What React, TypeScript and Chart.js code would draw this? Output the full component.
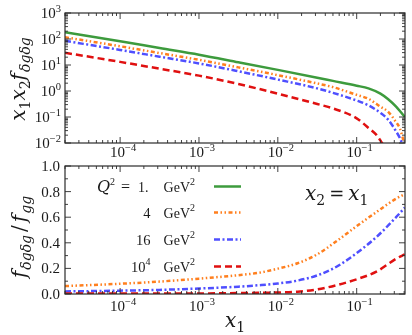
import React, { useEffect, useRef } from "react";
import { Chart, registerables } from "chart.js";
Chart.register(...registerables);

// ---------- data ----------
// top panel: x1 x2 f_{δgδg}
const xQ1 = [2e-5, 1e-4, 3.16e-4, 1e-3, 3.16e-3, 0.01, 0.0316, 0.05, 0.1, 0.141, 0.2, 0.251, 0.316, 0.355, 0.407];
const topQ1 = [182, 82, 45, 25, 12.8, 6.5, 3.25, 2.45, 1.6, 1.26, 0.79, 0.48, 0.25, 0.166, 0.1];
const xQ4 = [2e-5, 1e-4, 3.16e-4, 1e-3, 3.16e-3, 0.01, 0.0316, 0.05, 0.1, 0.141, 0.2, 0.251, 0.316, 0.355, 0.38, 0.407];
const topQ4 = [117, 52.5, 28.8, 15.8, 8.1, 4.07, 1.95, 1.41, 0.71, 0.5, 0.25, 0.158, 0.063, 0.035, 0.0174, 0.008];
const xQ16 = [2e-5, 1e-4, 3.16e-4, 1e-3, 3.16e-3, 0.01, 0.0316, 0.05, 0.1, 0.141, 0.2, 0.251, 0.316, 0.355, 0.38];
const topQ16 = [85, 38, 20.9, 11.5, 5.75, 2.75, 1.26, 0.85, 0.43, 0.28, 0.145, 0.079, 0.028, 0.015, 0.0089];
const xQ1e4 = [2e-5, 1e-4, 3.16e-4, 1e-3, 3.16e-3, 0.01, 0.0316, 0.05, 0.1, 0.141, 0.178, 0.2, 0.224];
const topQ1e4 = [29.5, 13.2, 7.2, 3.9, 1.86, 0.79, 0.316, 0.214, 0.089, 0.038, 0.0204, 0.0126, 0.0071];

// bottom panel: f_{δgδg} / f_{gg}
const xBot = [2e-5, 1e-4, 3.16e-4, 1e-3, 3.16e-3, 5.62e-3, 0.01, 0.0178, 0.0316, 0.0562, 0.1, 0.178, 0.316, 0.407];
const ratioQ4 = [0.062, 0.08, 0.097, 0.12, 0.147, 0.165, 0.198, 0.24, 0.31, 0.415, 0.53, 0.64, 0.745, 0.78];
const ratioQ16 = [0.02, 0.026, 0.032, 0.043, 0.057, 0.068, 0.082, 0.105, 0.145, 0.215, 0.32, 0.445, 0.6, 0.675];
const ratioQ1e4 = [0.003, 0.003, 0.003, 0.004, 0.007, 0.009, 0.012, 0.018, 0.036, 0.07, 0.115, 0.175, 0.275, 0.31];

const xDecades = [-4, -3, -2, -1];
const topYDecades = [-2, -1, 0, 1, 2, 3];
const botYTicks = [0, 0.2, 0.4, 0.6, 0.8, 1.0];
const botYLabels = ["0.0", "0.2", "0.4", "0.6", "0.8", "1.0"];
const legendNumbers = ["1.", "4", "16", "10"];

// ---------- styles ----------
const C1 = "#3d9b3d";
const C4 = "#ff7f1e";
const C16 = "#4f4fff";
const C1e4 = "#e01010";
const D1: number[] = [];
const D4 = [4, 2.5, 1.5, 2.5, 1.5, 2.5];
const D16 = [6, 2.5, 2, 2.5];
const D1e4 = [7, 4];
const FRAME = "#2b2b2b";
const TXT = "#1a1a1a";

type Seg = { t?: string; font?: string; dy?: number; gap?: number };
const R = (t: string, size: number, dy = 0): Seg => ({ t, font: `${size}px "Liberation Serif"`, dy });
const M = (t: string, size: number, dy = 0): Seg => ({ t, font: `italic ${size}px "DejaVu Serif"`, dy });
const MR = (t: string, size: number, dy = 0): Seg => ({ t, font: `${size}px "DejaVu Serif"`, dy });
const G = (w: number): Seg => ({ gap: w });

function drawSegs(ctx: CanvasRenderingContext2D, segs: Seg[], x: number, y: number, align: "left" | "center" | "right") {
  let total = 0;
  const widths = segs.map((s) => {
    if (s.gap !== undefined) return s.gap;
    ctx.font = s.font!;
    return ctx.measureText(s.t!).width;
  });
  widths.forEach((w) => (total += w));
  let cx = align === "left" ? x : align === "center" ? x - total / 2 : x - total;
  ctx.textAlign = "left";
  ctx.textBaseline = "alphabetic";
  ctx.fillStyle = TXT;
  segs.forEach((s, i) => {
    if (s.gap === undefined) {
      ctx.font = s.font!;
      ctx.fillText(s.t!, cx, y + (s.dy || 0));
    }
    cx += widths[i];
  });
}

function drawRotated(ctx: CanvasRenderingContext2D, segs: Seg[], x: number, y: number) {
  ctx.save();
  ctx.translate(x, y);
  ctx.rotate(-Math.PI / 2);
  drawSegs(ctx, segs, 0, 0, "center");
  ctx.restore();
}

const sup = (e: number) => (e < 0 ? "\u2212" + -e : String(e));

function tickLine(ctx: CanvasRenderingContext2D, x1: number, y1: number, x2: number, y2: number) {
  ctx.beginPath();
  ctx.moveTo(x1, y1);
  ctx.lineTo(x2, y2);
  ctx.stroke();
}

function drawFrameAndXTicks(chart: any) {
  const ctx: CanvasRenderingContext2D = chart.ctx;
  const a = chart.chartArea;
  const xs = chart.scales.x;
  ctx.save();
  ctx.strokeStyle = FRAME;
  ctx.lineWidth = 1.2;
  ctx.strokeRect(a.left, a.top, a.right - a.left, a.bottom - a.top);
  ctx.lineWidth = 0.9;
  for (let d = -6; d <= 0; d++) {
    for (let m = 1; m <= 9; m++) {
      const v = m * Math.pow(10, d);
      if (v < xs.min || v > xs.max) continue;
      const px = xs.getPixelForValue(v);
      const len = m === 1 ? 6 : 3;
      tickLine(ctx, px, a.bottom, px, a.bottom - len);
      tickLine(ctx, px, a.top, px, a.top + len);
    }
  }
  ctx.restore();
}

const topPlugin = {
  id: "topDecor",
  afterDraw(chart: any) {
    const ctx: CanvasRenderingContext2D = chart.ctx;
    const a = chart.chartArea;
    const xs = chart.scales.x;
    const ys = chart.scales.y;
    drawFrameAndXTicks(chart);
    ctx.save();
    ctx.strokeStyle = FRAME;
    ctx.lineWidth = 0.9;
    for (let d = -3; d <= 3; d++) {
      for (let m = 1; m <= 9; m++) {
        const v = m * Math.pow(10, d);
        if (v < ys.min * 0.999 || v > ys.max * 1.001) continue;
        const py = ys.getPixelForValue(v);
        const len = m === 1 ? 6 : 3;
        tickLine(ctx, a.left, py, a.left + len, py);
        tickLine(ctx, a.right, py, a.right - len, py);
      }
    }
    ctx.restore();
    xDecades.forEach((d) => {
      const px = xs.getPixelForValue(Math.pow(10, d));
      drawSegs(ctx, [R("10", 15), R(sup(d), 10.5, -6)], px + 3, a.bottom + 14, "center");
    });
    topYDecades.forEach((e) => {
      const py = ys.getPixelForValue(Math.pow(10, e));
      drawSegs(ctx, [R("10", 15), R(sup(e), 10.5, -6)], a.left - 4, py + 5, "right");
    });
    drawRotated(ctx, [M("x", 20), MR("1", 14, 5), M("x", 20), MR("2", 14, 5), M("f", 20), G(1), M("\u03b4g\u03b4g", 14, 5)], 25, 79);
  },
};

const botPlugin = {
  id: "botDecor",
  afterDraw(chart: any) {
    const ctx: CanvasRenderingContext2D = chart.ctx;
    const a = chart.chartArea;
    const xs = chart.scales.x;
    const ys = chart.scales.y;
    drawFrameAndXTicks(chart);
    ctx.save();
    ctx.strokeStyle = FRAME;
    ctx.lineWidth = 0.9;
    for (let i = 0; i <= 10; i++) {
      const v = i / 10;
      const py = ys.getPixelForValue(v);
      const len = i % 2 === 0 ? 6 : 3;
      tickLine(ctx, a.left, py, a.left + len, py);
      tickLine(ctx, a.right, py, a.right - len, py);
    }
    ctx.restore();
    xDecades.forEach((d) => {
      const px = xs.getPixelForValue(Math.pow(10, d));
      drawSegs(ctx, [R("10", 15), R(sup(d), 10.5, -6)], px + 3, a.bottom + 17, "center");
    });
    botYTicks.forEach((v, i) => {
      const py = ys.getPixelForValue(v);
      drawSegs(ctx, [R(botYLabels[i], 15)], a.left - 5, py + 5, "right");
    });
    drawRotated(ctx, [M("f", 20), G(1), M("\u03b4g\u03b4g", 14, 5), G(3), MR("/", 20), G(3), M("f", 20), G(1), M("gg", 14, 5)], 26, 87);
    // x title
    drawSegs(ctx, [M("x", 20), MR("1", 14, 5)], 235, 177, "center");
    // annotation
    drawSegs(ctx, [M("x", 20), MR("2", 14, 5), G(4), MR("=", 18), G(4), M("x", 20), MR("1", 14, 5)], 305, 50, "left");
    // legend
    const rows: { segs: Seg[]; color: string; dash: number[] }[] = [
      { segs: [M("Q", 16), R("2", 10, -7), G(6), R("=", 16), G(8), R(legendNumbers[0], 14), G(15), R("GeV", 14), R("2", 10, -7)], color: C1, dash: D1 },
      { segs: [R(legendNumbers[1], 14.5), G(13), R("GeV", 14), R("2", 10, -7)], color: C4, dash: D4 },
      { segs: [R(legendNumbers[2], 14.5), G(13), R("GeV", 14), R("2", 10, -7)], color: C16, dash: D16 },
      { segs: [R(legendNumbers[3], 14.5), R("4", 10, -7), G(13), R("GeV", 14), R("2", 10, -7)], color: C1e4, dash: D1e4 },
    ];
    const baselines = [42, 68, 95, 122];
    rows.forEach((r, i) => {
      drawSegs(ctx, r.segs, 195, baselines[i], "right");
      ctx.save();
      ctx.strokeStyle = r.color;
      ctx.lineWidth = 2.5;
      ctx.setLineDash(r.dash);
      tickLine(ctx, 214, baselines[i] - 5.5, 241, baselines[i] - 5.5);
      ctx.restore();
    });
  },
};

const ds = (xs: number[], ys: number[], color: string, dash: number[]) => ({
  data: xs.map((x, i) => ({ x, y: ys[i] })),
  borderColor: color,
  borderWidth: 2.5,
  borderDash: dash,
  pointRadius: 0,
  fill: false,
  cubicInterpolationMode: "monotone" as const,
});

const App = () => {
  const topRef = useRef<HTMLCanvasElement>(null);
  const botRef = useRef<HTMLCanvasElement>(null);
  useEffect(() => {
    const top = new Chart(topRef.current!, {
      type: "line",
      data: {
        datasets: [
          ds(xQ1e4, topQ1e4, C1e4, D1e4),
          ds(xQ16, topQ16, C16, D16),
          ds(xQ4, topQ4, C4, D4),
          ds(xQ1, topQ1, C1, D1),
        ],
      },
      options: {
        animation: false,
        responsive: false,
        maintainAspectRatio: false,
        layout: { padding: { left: 65, right: 7, top: 13, bottom: 20 } },
        scales: {
          x: { type: "logarithmic", min: 2e-5, max: 0.41, display: false },
          y: { type: "logarithmic", min: 0.01, max: 1000, display: false },
        },
        plugins: { legend: { display: false }, tooltip: { enabled: false } },
      },
      plugins: [topPlugin],
    });
    const bot = new Chart(botRef.current!, {
      type: "line",
      data: {
        datasets: [
          ds(xBot, ratioQ1e4, C1e4, D1e4),
          ds(xBot, ratioQ16, C16, D16),
          ds(xBot, ratioQ4, C4, D4),
        ],
      },
      options: {
        animation: false,
        responsive: false,
        maintainAspectRatio: false,
        layout: { padding: { left: 65, right: 7, top: 16, bottom: 41 } },
        scales: {
          x: { type: "logarithmic", min: 2e-5, max: 0.41, display: false },
          y: { type: "linear", min: 0, max: 1, display: false },
        },
        plugins: { legend: { display: false }, tooltip: { enabled: false } },
      },
      plugins: [botPlugin],
    });
    return () => {
      top.destroy();
      bot.destroy();
    };
  }, []);
  return (
    <div style={{ position: "fixed", left: 0, top: 0, width: 412, height: 335, background: "#fff" }}>
      <canvas ref={topRef} width={412} height={163} style={{ position: "absolute", left: 0, top: 0 }} />
      <canvas ref={botRef} width={412} height={185} style={{ position: "absolute", left: 0, top: 150 }} />
    </div>
  );
};

export default App;
